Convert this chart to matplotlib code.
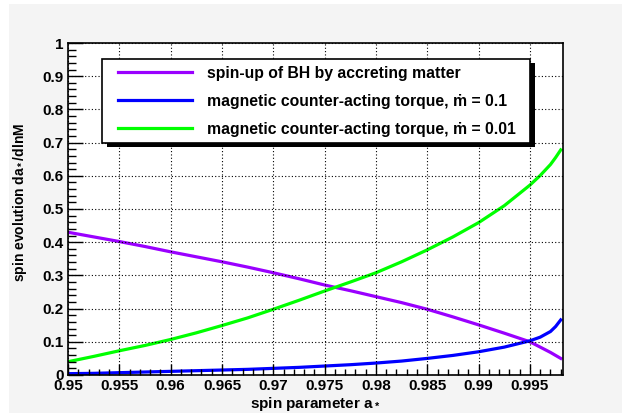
import numpy as np
import matplotlib
matplotlib.use("Agg")
import matplotlib.pyplot as plt
import matplotlib.ticker as tick
from matplotlib.patches import Rectangle
from matplotlib.legend_handler import HandlerLine2D

plt.rcParams['font.family'] = ['Liberation Sans', 'DejaVu Sans']
plt.rcParams['font.weight'] = 'bold'
plt.rcParams['axes.labelweight'] = 'bold'
plt.rcParams['mathtext.fontset'] = 'custom'
plt.rcParams['mathtext.rm'] = 'Liberation Sans:bold'
plt.rcParams['mathtext.it'] = 'Liberation Sans:bold'
plt.rcParams['mathtext.bf'] = 'Liberation Sans:bold'

# values
spin = [0.95, 0.9525, 0.955, 0.9575, 0.96, 0.9625, 0.965, 0.9675, 0.97, 0.9725,
        0.975, 0.9775, 0.98, 0.9825, 0.985, 0.9875, 0.99, 0.9925, 0.995, 0.996,
        0.997, 0.9975, 0.998]
spinup = [0.430, 0.416, 0.402, 0.387, 0.371, 0.356, 0.341, 0.325, 0.308, 0.290,
          0.271, 0.254, 0.236, 0.218, 0.198, 0.175, 0.151, 0.126, 0.100, 0.084,
          0.068, 0.059, 0.050]
torque_01 = [0.004, 0.005, 0.007, 0.009, 0.011, 0.013, 0.015, 0.017, 0.020, 0.023,
             0.027, 0.031, 0.036, 0.042, 0.050, 0.059, 0.070, 0.084, 0.103, 0.114,
             0.131, 0.146, 0.166]
torque_001 = [0.040, 0.056, 0.073, 0.089, 0.107, 0.127, 0.149, 0.172, 0.198, 0.225,
              0.253, 0.280, 0.308, 0.341, 0.377, 0.416, 0.459, 0.510, 0.572, 0.601,
              0.634, 0.655, 0.678]

labels = ['spin-up of BH by accreting matter',
          'magnetic counter-acting torque, \u1e41 = 0.1',
          'magnetic counter-acting torque, \u1e41 = 0.01']
colors = ['#9a00ff', '#0000ff', '#00ff00']

fig = plt.figure(figsize=(6.22, 4.13), dpi=100, facecolor='white')
fig.patches.append(Rectangle((9 / 622, 0), 1, (413 - 4) / 413, transform=fig.transFigure,
                             facecolor='#f4f4f4', edgecolor='none', zorder=-10))
ax = fig.add_axes([68 / 622, 38 / 413, 495 / 622, 332 / 413])

for y, c, lab in zip([spinup, torque_01, torque_001], colors, labels):
    ax.plot(spin, y, color=c, lw=2.3, label=lab, solid_joinstyle='round')

ax.set_xlim(0.95, 0.99822)
ax.set_ylim(0, 1)
ax.xaxis.set_major_locator(tick.MultipleLocator(0.005))
ax.xaxis.set_minor_locator(tick.MultipleLocator(0.001))
ax.yaxis.set_major_locator(tick.MultipleLocator(0.1))
ax.yaxis.set_minor_locator(tick.MultipleLocator(0.02))
ax.xaxis.set_major_formatter(tick.FuncFormatter(lambda v, p: ('%.3f' % v).rstrip('0').rstrip('.')))
ax.yaxis.set_major_formatter(tick.FuncFormatter(lambda v, p: ('%.1f' % v).rstrip('0').rstrip('.')))

ax.tick_params(which='both', direction='in', top=False, right=False, labelsize=11, width=1)
ax.tick_params(axis='x', which='major', length=8, pad=3)
ax.tick_params(axis='x', which='minor', length=4)
ax.tick_params(axis='y', which='major', length=11, pad=3)
ax.tick_params(axis='y', which='minor', length=6)
for s in ax.spines.values():
    s.set_linewidth(1.2)

ax.grid(True, which='major', color='black', linestyle=(0, (1, 2)), linewidth=0.8)
ax.set_axisbelow(False)

ax.set_xlabel('spin parameter a$_*$', fontsize=11, labelpad=1)
ax.set_ylabel('spin evolution da$_*$/dlnM', fontsize=10)
ax.yaxis.set_label_coords(-0.079, 0.52)

leg_bottom = 232 / 332
leg_top = 316 / 332
leg = ax.legend(loc='upper left',
                bbox_to_anchor=(34 / 495, leg_bottom, 428 / 495, leg_top - leg_bottom),
                mode='expand', fancybox=False, framealpha=1, edgecolor='black',
                fontsize=11.3, numpoints=2,
                handler_map={matplotlib.lines.Line2D: HandlerLine2D(marker_pad=0.57)},
                handlelength=5.9, handletextpad=0.38, labelspacing=0.83, borderpad=0.42,
                borderaxespad=0)
leg.get_frame().set_linewidth(1.2)
leg.set_zorder(5)

# ROOT-like solid black drop shadow behind the legend box
fig.canvas.draw()
bb = leg.get_window_extent().transformed(ax.transAxes.inverted())
dx, dy = 5 / 495, -4 / 332
ax.add_patch(Rectangle((bb.x0 + dx, bb.y0 + dy), bb.width, bb.height,
                       transform=ax.transAxes, facecolor='black', edgecolor='none',
                       zorder=4.9, clip_on=False))

fig.savefig('out.png', dpi=100, facecolor=fig.get_facecolor())
